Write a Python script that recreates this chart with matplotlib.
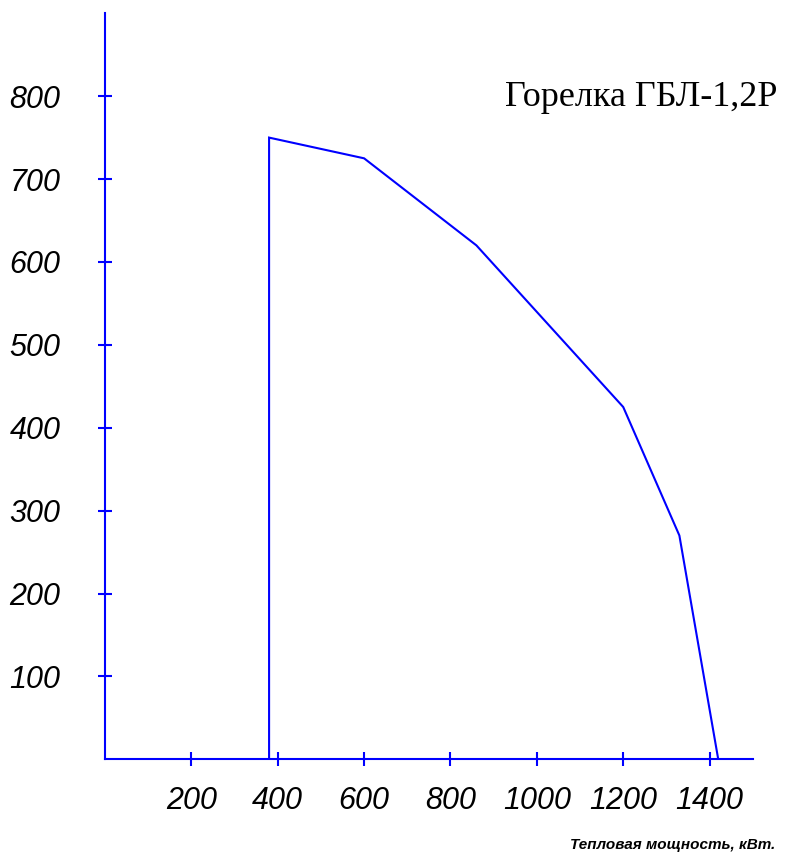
import matplotlib
matplotlib.use('Agg')
from matplotlib import pyplot as plt

# burner working field
power_kw = [380, 380, 600, 860, 1200, 1330, 1420]
pressure = [0, 750, 725, 620, 425, 270, 0]

x_ticks = [200, 400, 600, 800, 1000, 1200, 1400]
y_ticks = [100, 200, 300, 400, 500, 600, 700, 800]

title_text = 'Горелка ГБЛ-1,2Р'
xlabel_text = 'Тепловая мощность, кВт.'

blue = '#0000ff'
sans = ['Liberation Sans', 'DejaVu Sans']

fig = plt.figure(figsize=(7.91, 8.61), dpi=100)
ax = fig.add_axes([0.1327, 0.1181, 0.819, 0.8665])

ax.plot(power_kw, pressure, color=blue, lw=1.5, solid_joinstyle='miter')

ax.set_xlim(0, 1500)
ax.set_ylim(0, 900)

for side in ['top', 'right']:
    ax.spines[side].set_visible(False)
for side in ['left', 'bottom']:
    ax.spines[side].set_color(blue)
    ax.spines[side].set_linewidth(1.5)

ax.set_xticks(x_ticks)
ax.set_yticks(y_ticks)
ax.tick_params(axis='both', direction='inout', length=10, width=1.5, color=blue)
ax.tick_params(axis='y', pad=27)
ax.tick_params(axis='x', pad=14)

for lbl in ax.get_xticklabels() + ax.get_yticklabels():
    lbl.set_fontfamily(sans)
    lbl.set_fontstyle('italic')
    lbl.set_fontsize(22)
    lbl.set_color('black')

fig.text(0.98, 0.019, xlabel_text, ha='right', va='center', fontsize=11,
         family=sans, style='italic', weight='bold')
fig.text(0.983, 0.887, title_text, ha='right', va='center', fontsize=26,
         family=['Liberation Serif', 'DejaVu Serif'])

fig.savefig('out.png', dpi=100)
